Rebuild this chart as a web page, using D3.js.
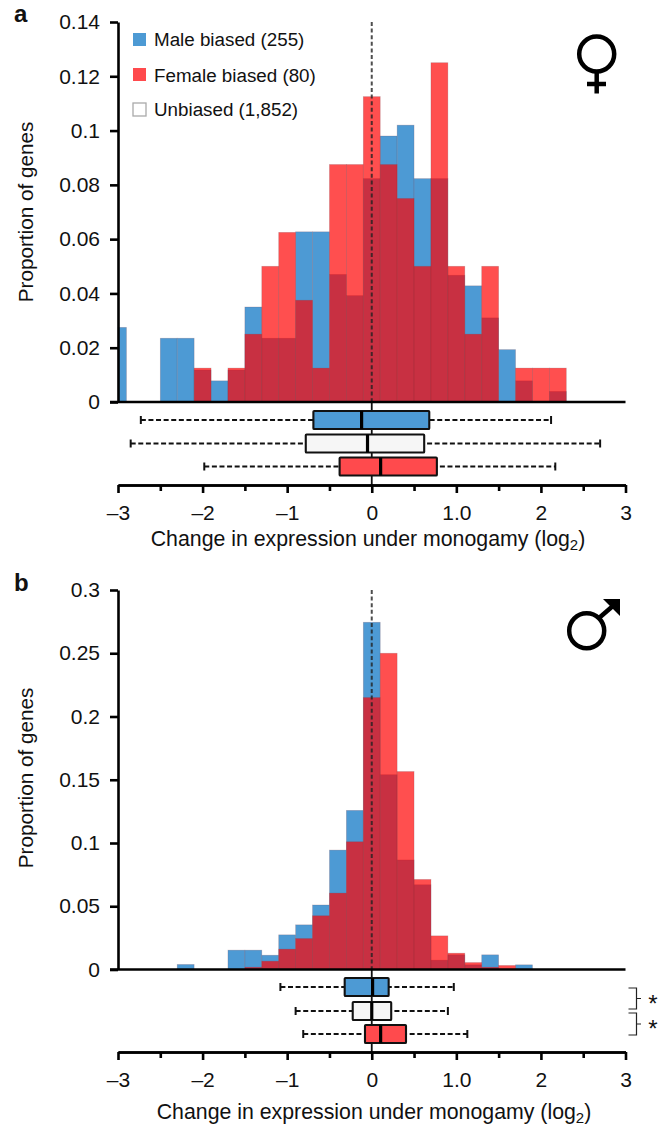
<!DOCTYPE html>
<html>
<head>
<meta charset="utf-8">
<script src="https://cdn.jsdelivr.net/npm/d3@7"></script>
<style>
	html, body { margin: 0; padding: 0; background: #fff; }
	svg { display: block; }
	text { font-family: "Liberation Sans", Arial, sans-serif; fill: #111; }
</style>
</head>
<body>
<div id="chart"></div>
<script>
var binCentres = [-3, -2.8, -2.6, -2.4, -2.2, -2, -1.8, -1.6, -1.4, -1.2, -1, -0.8, -0.6, -0.4, -0.2, 0, 0.2, 0.4, 0.6, 0.8, 1, 1.2, 1.4, 1.6, 1.8, 2, 2.2];
var maleA = [0.0275, 0, 0, 0.0235, 0.0235, 0.0118, 0.0078, 0.0118, 0.035, 0.0235, 0.0235, 0.0627, 0.0627, 0.047, 0.0392, 0.0823, 0.098, 0.102, 0.0823, 0.0823, 0.0467, 0.0428, 0.031, 0.0193, 0.0078, 0, 0.0039];
var femaleA = [0, 0, 0, 0, 0, 0.0125, 0, 0.0125, 0.025, 0.05, 0.0625, 0.0375, 0.0125, 0.0875, 0.0875, 0.1125, 0.0875, 0.075, 0.05, 0.125, 0.05, 0.025, 0.05, 0, 0.0125, 0.0125, 0.0125];
var maleB = [0, 0, 0, 0, 0.004, 0, 0, 0.0153, 0.0153, 0.0113, 0.0274, 0.0353, 0.051, 0.0944, 0.1258, 0.2745, 0.154, 0.0866, 0.067, 0.0074, 0.0116, 0.0037, 0.0116, 0, 0.0037, 0, 0];
var femaleB = [0, 0, 0, 0, 0, 0, 0, 0, 0.0018, 0.0066, 0.0161, 0.0245, 0.0425, 0.0604, 0.101, 0.215, 0.25, 0.1565, 0.0712, 0.0266, 0.0129, 0.0055, 0.0018, 0.0032, 0, 0, 0];

// whisker low, q1, median, q3, whisker high
var boxesA = [[-2.73, -0.69, -0.12, 0.68, 2.12], [-2.85, -0.78, -0.05, 0.62, 2.7], [-1.98, -0.38, 0.105, 0.77, 2.17]];
var boxesB = [[-1.08, -0.32, 0.01, 0.2, 0.97], [-0.9, -0.225, 0, 0.23, 0.9], [-0.81, -0.08, 0.105, 0.405, 1.13]];

var yTicksA = [0, 0.02, 0.04, 0.06, 0.08, 0.1, 0.12, 0.14];
var yTicksB = [0, 0.05, 0.1, 0.15, 0.2, 0.25, 0.3];
var xTicks = [-3, -2, -1, 0, 1, 2, 3];
var xMinorTicks = [-2.5, -1.5, -0.5, 0.5, 1.5, 2.5];
var xTickLabels = ["\u20133", "\u20132", "\u20131", "0", "1.0", "2", "3"];
var legendLabels = ["Male biased (255)", "Female biased (80)", "Unbiased (1,852)"];

var BLUE = "#4d9ad4", RED = "#ff0000", BOX_RED = "#ff4a4d", BOX_WHITE = "#f6f6f6";
var binWidth = 0.2;

var svg = d3.select("#chart").append("svg").attr("width", 668).attr("height", 1126);
var x = d3.scaleLinear().domain([-3, 3]).range([118, 625.5]);

function drawPanel(opt) {
	var y = d3.scaleLinear().domain([0, opt.yMax]).range([opt.y0, opt.yTop]);
	var g = svg.append("g");

	// histograms, red sits over blue at reduced opacity so overlap goes dark
	[[opt.male, BLUE, 1], [opt.female, RED, 0.69]].forEach(function (s) {
		g.append("g").selectAll("rect")
			.data(s[0].map(function (v, i) { return { c: binCentres[i], v: v }; }).filter(function (d) { return d.v > 0; }))
			.enter().append("rect")
			.attr("x", function (d) { return x(Math.max(-3, d.c - binWidth / 2)); })
			.attr("y", function (d) { return y(d.v); })
			.attr("width", function (d) { return x(d.c + binWidth / 2) - x(Math.max(-3, d.c - binWidth / 2)); })
			.attr("height", function (d) { return y(0) - y(d.v); })
			.attr("fill", s[1]).attr("fill-opacity", s[2])
			.attr("stroke", "#7a4a55").attr("stroke-opacity", 0.3).attr("stroke-width", 0.7);
	});

	// zero line, dashed over the histogram and solid down through the boxes
	g.append("line").attr("x1", x(0)).attr("x2", x(0)).attr("y1", opt.yTop).attr("y2", opt.y0)
		.attr("stroke", "#222").attr("stroke-opacity", 0.8).attr("stroke-width", 2).attr("stroke-dasharray", "4,2.6");
	g.append("line").attr("x1", x(0)).attr("x2", x(0)).attr("y1", opt.y0).attr("y2", opt.xAxisY)
		.attr("stroke", "#111").attr("stroke-width", 1.8);

	// boxes
	opt.boxes.forEach(function (b, i) {
		var cy = opt.boxY[i], h = opt.boxH;
		var bg = g.append("g");
		bg.append("line").attr("x1", x(b[0])).attr("x2", x(b[4])).attr("y1", cy).attr("y2", cy)
			.attr("stroke", "#111").attr("stroke-width", 1.8).attr("stroke-dasharray", "5,2.6");
		[b[0], b[4]].forEach(function (w) {
			bg.append("line").attr("x1", x(w)).attr("x2", x(w)).attr("y1", cy - 4).attr("y2", cy + 4)
				.attr("stroke", "#111").attr("stroke-width", 2);
		});
		bg.append("rect").attr("x", x(b[1])).attr("y", cy - h / 2).attr("width", x(b[3]) - x(b[1])).attr("height", h)
			.attr("fill", [BLUE, BOX_WHITE, BOX_RED][i]).attr("stroke", "#111").attr("stroke-width", 2.1).attr("rx", 0.8);
		bg.append("line").attr("x1", x(b[2])).attr("x2", x(b[2])).attr("y1", cy - h / 2).attr("y2", cy + h / 2)
			.attr("stroke", "#000").attr("stroke-width", 3.2);
	});

	// axes
	var yAxis = g.append("g").attr("transform", "translate(" + x(-3) + ",0)")
		.call(d3.axisLeft(y).tickValues(opt.yTicks).tickSize(8).tickSizeOuter(0).tickPadding(10).tickFormat(function (d) { return d === 0 ? "0" : String(d); }));
	var xMinor = g.append("g").attr("transform", "translate(0," + opt.xAxisY + ")")
		.call(d3.axisBottom(x).tickValues(xMinorTicks).tickSize(6).tickSizeOuter(0).tickFormat(""));
	var xAxis = g.append("g").attr("transform", "translate(0," + opt.xAxisY + ")")
		.call(d3.axisBottom(x).tickValues(xTicks).tickSize(8).tickSizeOuter(0).tickPadding(12).tickFormat(function (d, i) { return xTickLabels[i]; }));
	[yAxis, xMinor, xAxis].forEach(function (a) {
		a.selectAll("path,line").attr("stroke", "#000").attr("stroke-width", 2.6);
		a.selectAll("text").attr("fill", "#111").style("font-size", "21px").style("font-family", '"Liberation Sans", Arial, sans-serif');
	});

	// baseline of the histogram, runs out left over the y axis tick
	g.append("line").attr("x1", 110).attr("x2", x(3)).attr("y1", opt.y0).attr("y2", opt.y0)
		.attr("stroke", "#000").attr("stroke-width", 2.6);

	g.append("text").attr("transform", "translate(33," + opt.yLabelY + ") rotate(-90)")
		.attr("text-anchor", "middle").style("font-size", "20.7px").text("Proportion of genes");

	var title = g.append("text").attr("x", opt.titleX).attr("y", opt.titleY).attr("text-anchor", "middle").style("font-size", "21.3px");
	title.append("tspan").text("Change in expression under monogamy (log");
	title.append("tspan").attr("dy", 4).style("font-size", "15px").text("2");
	title.append("tspan").attr("dy", -4).text(")");

	g.append("text").attr("x", 14).attr("y", opt.letterY).style("font-size", "24px").style("font-weight", "bold").text(opt.letter);
}

drawPanel({ male: maleA, female: femaleA, boxes: boxesA, yMax: 0.14, yTicks: yTicksA, y0: 402, yTop: 22, xAxisY: 485,
	boxY: [420, 443.5, 466.5], boxH: 18, yLabelY: 212, titleX: 368, titleY: 546, letter: "a", letterY: 22 });
drawPanel({ male: maleB, female: femaleB, boxes: boxesB, yMax: 0.3, yTicks: yTicksB, y0: 969.5, yTop: 590, xAxisY: 1052,
	boxY: [987, 1011, 1034], boxH: 18, yLabelY: 778, titleX: 374, titleY: 1119, letter: "b", letterY: 591 });

// legend
var legend = svg.append("g");
legendLabels.forEach(function (label, i) {
	var top = [33, 68, 103][i];
	legend.append("rect").attr("x", 133).attr("y", top).attr("width", 13).attr("height", 13)
		.attr("fill", [BLUE, BOX_RED, "#fff"][i]).attr("stroke", i === 2 ? "#aaa" : "none").attr("stroke-width", 1.3);
	legend.append("text").attr("x", 154).attr("y", [46, 81.5, 116][i]).style("font-size", "18.8px").text(label);
});

// sex symbols
var venus = svg.append("g").attr("fill", "none").attr("stroke", "#000").attr("stroke-width", 4.5);
venus.append("circle").attr("cx", 596.7).attr("cy", 54).attr("r", 17.5);
venus.append("line").attr("x1", 596.7).attr("x2", 596.7).attr("y1", 72).attr("y2", 93.5);
venus.append("line").attr("x1", 587).attr("x2", 606).attr("y1", 84).attr("y2", 84);

var mars = svg.append("g").attr("fill", "none").attr("stroke", "#000").attr("stroke-width", 4.5);
mars.append("circle").attr("cx", 586.7).attr("cy", 630.7).attr("r", 17.5);
mars.append("line").attr("x1", 599).attr("x2", 614).attr("y1", 618).attr("y2", 605);
mars.append("path").attr("d", "M603,599H620V616Z").attr("fill", "#000").attr("stroke", "none");

// significance brackets
var brackets = svg.append("g").attr("fill", "none").attr("stroke", "#222").attr("stroke-width", 1.2);
[[988, 1009], [1013, 1035]].forEach(function (b, i) {
	brackets.append("path").attr("d", "M628.5," + b[0] + "H636.5V" + b[1] + "H628.5M636.5," + (b[0] + b[1]) / 2 + "H641");
	svg.append("text").attr("x", 653).attr("y", (b[0] + b[1]) / 2 + 13).attr("text-anchor", "middle").style("font-size", "24px").text("*");
});
</script>
</body>
</html>
